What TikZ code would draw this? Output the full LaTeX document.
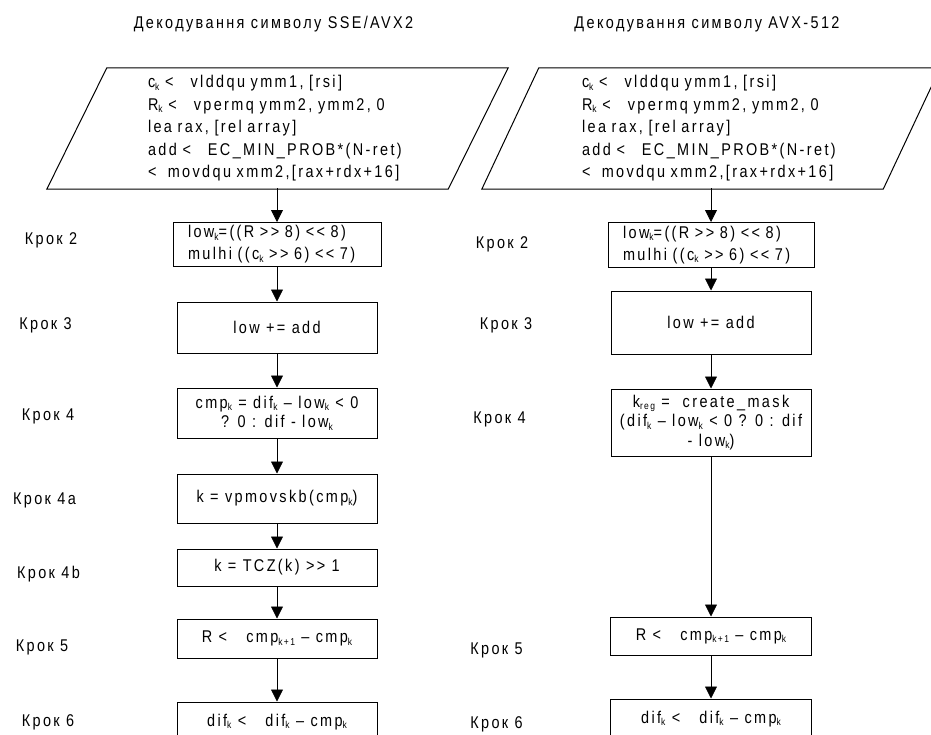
\documentclass[tikz,border=0pt]{standalone}
\usepackage{fontspec}
\setmainfont{Liberation Sans}[FakeStretch=0.85,LetterSpace=14]
\usetikzlibrary{arrows.meta}
% small lowered index
\newcommand\ix[1]{\raisebox{-2.5pt}{\fontsize{10}{10}\selectfont #1}}
% shift operators, kept apart so they are not joined into guillemets
\newcommand\shr{>{}>}
\newcommand\shl{<{}<}

\begin{document}
\begin{tikzpicture}[x=1pt,y=-1pt,
  every node/.style={font=\fontsize{17}{22}\selectfont},
  lbl/.style={inner sep=0pt, text height=12.2pt, text depth=0pt},
  stepbox/.style={draw, line width=1pt, inner sep=0pt, align=center},
  iotext/.style={inner sep=0pt, align=left, font=\fontsize{17}{22.5}\selectfont},
  io/.style={line width=1pt},
  arr/.style={line width=0.8pt, -{Triangle[width=12pt,length=12pt]}}
]
\useasboundingbox (0,0) rectangle (931,734);
\clip (0,0) rectangle (931,734);

% ---------- titles ----------
\node[lbl] (t1) at (273.5,22) {Декодування символу SSE/AVX2};
\node[lbl] (t2) at (707,22) {Декодування символу AVX-512};

% ---------- left column: SSE/AVX2 ----------
\node[iotext, text width=259pt, minimum width=341pt, minimum height=119pt] (a1) at (277.5,128.5)
  {c\ix{k} <~~ vlddqu ymm1, [rsi]\\
   R\ix{k} <~~ vpermq ymm2, ymm2, 0\\
   lea rax, [rel array]\\
   add <~~ EC\_MIN\_PROB*(N-ret)\\
   <~~movdqu xmm2,[rax+rdx+16]};
\draw[io] ([xshift=-60pt,yshift=-1pt]a1.south west) -- ([yshift=-1pt]a1.south east)
  -- ([xshift=60pt,yshift=1pt]a1.north east) -- ([yshift=1pt]a1.north west) -- cycle;

\node[stepbox, align=left, inner xsep=15pt, text width=178pt, minimum height=44pt] (a2) at (277,244.5)
  {low\ix{k}=((R \shr{} 8) \shl{} 8)\\ mulhi ((c\ix{k} \shr{} 6) \shl{} 7)};
\node[stepbox, minimum width=200pt, minimum height=51pt] (a3) at (277,327.5) {low += add};
\node[stepbox, minimum width=200pt, minimum height=50pt, font=\fontsize{17}{19.5}\selectfont] (a4) at (277,413)
  {cmp\ix{k} = dif\ix{k} -- low\ix{k} < 0\\ ? 0 : dif - low\ix{k}};
\node[stepbox, minimum width=200pt, minimum height=49pt] (a4a) at (277,498.5) {k = vpmovskb(cmp\ix{k})};
\node[stepbox, minimum width=200pt, minimum height=37pt] (a4b) at (277,567.5) {k = TCZ(k) \shr{} 1};
\node[stepbox, minimum width=200pt, minimum height=39pt] (a5) at (277,638.5) {R <~~ cmp\ix{k+1} -- cmp\ix{k}};
\node[stepbox, minimum width=200pt, minimum height=40pt] (a6) at (277,722) {dif\ix{k} <~~ dif\ix{k} -- cmp\ix{k}};

\draw[arr] (a1.south -| a2.north) -- (a2.north);
\draw[arr] (a2) -- (a3);
\draw[arr] (a3) -- (a4);
\draw[arr] (a4) -- (a4a);
\draw[arr] (a4a) -- (a4b);
\draw[arr] (a4b) -- (a5);
\draw[arr] (a5) -- (a6);

\node[lbl] (la2) at (51,238) {Крок 2};
\node[lbl] (la3) at (45.5,323) {Крок 3};
\node[lbl] (la4) at (48,414) {Крок 4};
\node[lbl] (la4a) at (44.5,498) {Крок 4a};
\node[lbl] (la4b) at (48.5,572) {Крок 4b};
\node[lbl] (la5) at (42,645) {Крок 5};
\node[lbl] (la6) at (48,720) {Крок 6};

% ---------- right column: AVX-512 ----------
\node[iotext, text width=258pt, minimum width=344pt, minimum height=119pt] (b1) at (711,128.5)
  {c\ix{k} <~~ vlddqu ymm1, [rsi]\\
   R\ix{k} <~~ vpermq ymm2, ymm2, 0\\
   lea rax, [rel array]\\
   add <~~ EC\_MIN\_PROB*(N-ret)\\
   <~~movdqu xmm2,[rax+rdx+16]};
\draw[io] ([xshift=-57pt,yshift=-1pt]b1.south west) -- ([yshift=-1pt]b1.south east)
  -- ([xshift=57pt,yshift=1pt]b1.north east) -- ([yshift=1pt]b1.north west) -- cycle;

\node[stepbox, align=left, inner xsep=15pt, text width=176pt, minimum height=45pt] (b2) at (711,245)
  {low\ix{k}=((R \shr{} 8) \shl{} 8)\\ mulhi ((c\ix{k} \shr{} 6) \shl{} 7)};
\node[stepbox, minimum width=200pt, minimum height=63pt] (b3) at (711,322.5) {low += add};
\node[stepbox, minimum width=200pt, minimum height=67pt, font=\fontsize{17}{19.5}\selectfont] (b4) at (711,422.5)
  {k\ix{reg} =~~create\_mask\\ (dif\ix{k} -- low\ix{k} < 0 ? 0 : dif\\ - low\ix{k})};
\node[stepbox, minimum width=201pt, minimum height=38pt] (b5) at (711,636) {R <~~ cmp\ix{k+1} -- cmp\ix{k}};
\node[stepbox, minimum width=201pt, minimum height=40pt] (b6) at (711,719) {dif\ix{k} <~~ dif\ix{k} -- cmp\ix{k}};

\draw[arr] (b1.south -| b2.north) -- (b2.north);
\draw[arr] (b2) -- (b3);
\draw[arr] (b3) -- (b4);
\draw[arr] (b4) -- (b5);
\draw[arr] (b5) -- (b6);

\node[lbl] (lb2) at (502,242) {Крок 2};
\node[lbl] (lb3) at (506,323) {Крок 3};
\node[lbl] (lb4) at (499.5,417) {Крок 4};
\node[lbl] (lb5) at (496.5,648) {Крок 5};
\node[lbl] (lb6) at (496.5,722) {Крок 6};
\end{tikzpicture}
\end{document}
